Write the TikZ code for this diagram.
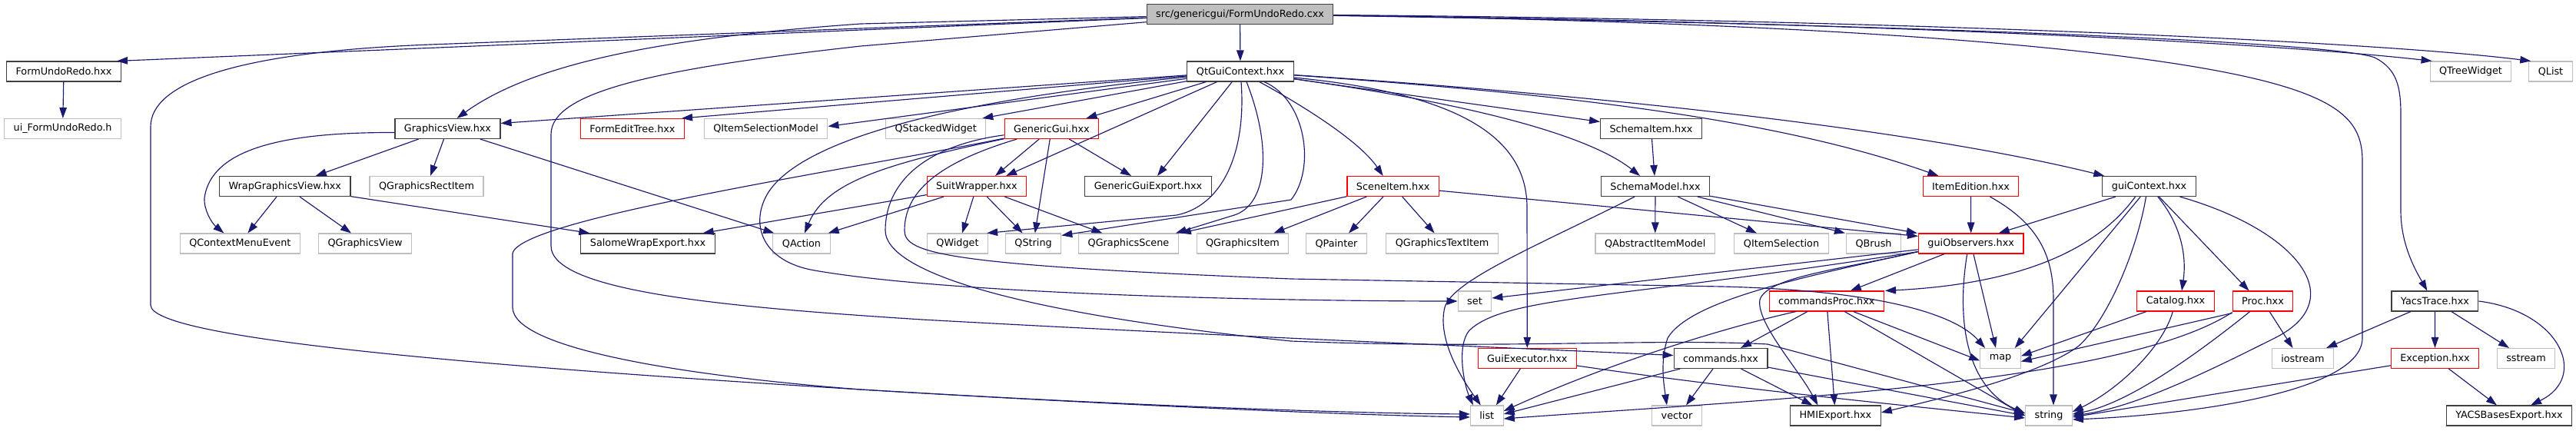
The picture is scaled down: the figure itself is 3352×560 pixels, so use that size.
\documentclass[tikz,border=0pt]{standalone}
\usepackage{fontspec}
\newfontfamily\dvs{DejaVu Sans}
\usetikzlibrary{arrows.meta}
\definecolor{edgec}{HTML}{191970}
\definecolor{lgray}{HTML}{BFBFBF}
\definecolor{dkgray}{HTML}{404040}
\definecolor{rootfill}{HTML}{BFBFBF}
\tikzset{
  nd/.style={draw=dkgray, line width=1.1pt, fill=white, inner xsep=12pt, inner ysep=0pt,
    minimum height=26pt, font=\dvs\fontsize{12.8pt}{15pt}\selectfont, text=black},
  gr/.style={nd, draw=lgray},
  rd/.style={nd, draw=red},
  rt/.style={nd, fill=rootfill},
  edg/.style={draw=edgec, line width=1.15pt, -{Triangle[length=14pt,width=9.5pt]}},
}
\begin{document}
\begin{tikzpicture}[x=1pt,y=-1pt]
\useasboundingbox (0,0) rectangle (3352,560);
% row 0
\node[rt] (root) at (1613.5,18.5) {src/genericgui/FormUndoRedo.cxx};
% row 1
\node[nd] (fur) at (83,93) {FormUndoRedo.hxx};
\node[nd] (qgc) at (1614,93) {QtGuiContext.hxx};
\node[gr] (qtw) at (3215,93) {QTreeWidget};
\node[gr] (qlist) at (3319,93) {QList};
% row 2
\node[gr] (uifur) at (81.6,167.5) {ui\_FormUndoRedo.h};
\node[nd] (gv) at (582.5,167.5) {GraphicsView.hxx};
\node[rd] (fet) at (823,167.5) {FormEditTree.hxx};
\node[gr] (qism) at (996.6,167.5) {QItemSelectionModel};
\node[gr] (qsw) at (1217.7,167.5) {QStackedWidget};
\node[rd] (gg) at (1368.4,167.5) {GenericGui.hxx};
\node[nd] (si) at (2148.5,167.5) {SchemaItem.hxx};
% row 3
\node[nd] (wgv) at (370.8,242.5) {WrapGraphicsView.hxx};
\node[gr] (qgri) at (555,242.5) {QGraphicsRectItem};
\node[rd] (sw) at (1271,242.5) {SuitWrapper.hxx};
\node[nd] (gge) at (1494,242.5) {GenericGuiExport.hxx};
\node[rd] (scit) at (1812.7,242.5) {SceneItem.hxx};
\node[nd] (sm) at (2154,242.5) {SchemaModel.hxx};
\node[rd] (ie) at (2564.5,242.5) {ItemEdition.hxx};
\node[nd] (gc) at (2796.5,242.5) {guiContext.hxx};
% row 4
\node[gr] (qcme) at (312.4,317) {QContextMenuEvent};
\node[gr] (qgview) at (475,317) {QGraphicsView};
\node[nd] (swe) at (843,317) {SalomeWrapExport.hxx};
\node[gr] (qaction) at (1043,317) {QAction};
\node[gr] (qwidget) at (1246,317) {QWidget};
\node[gr] (qstring) at (1344.6,317) {QString};
\node[gr] (qgs) at (1468.5,317) {QGraphicsScene};
\node[gr] (qgi) at (1617,317) {QGraphicsItem};
\node[gr] (qpainter) at (1739,317) {QPainter};
\node[gr] (qgti) at (1876.6,317) {QGraphicsTextItem};
\node[gr] (qaim) at (2153.7,317) {QAbstractItemModel};
\node[gr] (qis) at (2318,317) {QItemSelection};
\node[gr] (qbrush) at (2438,317) {QBrush};
\node[rd] (go) at (2564.7,317) {guiObservers.hxx};
% row 5
\node[gr] (set) at (1919,392) {set};
\node[rd] (cp) at (2376.8,392) {commandsProc.hxx};
\node[rd] (cat) at (2831,392) {Catalog.hxx};
\node[rd] (proc) at (2944.5,392) {Proc.hxx};
\node[nd] (yt) at (3168.4,392) {YacsTrace.hxx};
% row 6
\node[rd] (ge) at (1987.3,466.5) {GuiExecutor.hxx};
\node[nd] (cmd) at (2239,466.5) {commands.hxx};
\node[gr] (map) at (2603,466.5) {map};
\node[gr] (iostream) at (2996.4,466.5) {iostream};
\node[rd] (exc) at (3168.5,466.5) {Exception.hxx};
\node[gr] (sstream) at (3287,466.5) {sstream};
% row 7
\node[gr] (list) at (1934.8,541) {list};
\node[gr] (vector) at (2182,541) {vector};
\node[nd] (hmi) at (2388.4,541) {HMIExport.hxx};
\node[gr] (string) at (2666,541) {string};
\node[nd] (ybe) at (3265,541) {YACSBasesExport.hxx};

% ---- edges from root
\draw[edg] (root) -- ([xshift=-6pt]fur.north east);
\draw[edg] (root) -- (560,58) .. controls (300,68) and (196,110) .. (196,165) -- (196,397)
  .. controls (196,440) and (600,475) .. (1120,507) .. controls (1450,527) and (1750,538) .. ([yshift=2pt]list.west);
\draw[edg] (root) -- (1120,31) .. controls (850,50) and (690,85) .. ([xshift=12pt]gv.north);
\draw[edg] (root) -- (1120,60) .. controls (850,90) and (717,120) .. (717,175) -- (717,320)
  .. controls (717,380) and (950,400) .. (1200,416) .. controls (1600,438) and (1950,452) .. ([yshift=4pt]cmd.west);
\draw[edg] (root) -- (qgc);
\draw[edg] (root) .. controls (2400,28) and (2950,55) .. ([xshift=3pt]qtw.north west);
\draw[edg] (root) .. controls (2500,26) and (3100,55) .. ([xshift=3pt]qlist.north west);
\draw[edg] (root) .. controls (2500,32) and (3040,55) .. (3090,75) .. controls (3120,90) and (3124,115) .. (3124,150)
  -- (3124,275) .. controls (3124,320) and (3145,355) .. ([xshift=-10pt]yt.north);
\draw[edg] (root) .. controls (2300,28) and (2700,55) .. (2900,95) .. controls (3050,125) and (3074,160) .. (3074,210)
  -- (3074,440) .. controls (3074,510) and (2850,540) .. ([yshift=-5pt]string.east);
\draw[edg] (fur) -- (uifur);

% ---- edges from QtGuiContext
\draw[edg] (qgc) -- ([yshift=7pt]gv.east);
\draw[edg] (qgc) -- ([xshift=-4pt]fet.north east);
\draw[edg] (qgc) -- ([yshift=3pt]qism.east);
\draw[edg] (qgc) -- ([xshift=-5pt]qsw.north east);
\draw[edg] (qgc) -- ([xshift=45pt]gg.north);
\draw[edg] (qgc) -- ([xshift=38pt]sw.north);
\draw[edg] (qgc) -- ([xshift=12pt]gge.north);
\draw[edg] (qgc) .. controls (1622,200) and (1590,268) .. (1531,280) -- ([xshift=-2pt]qwidget.north east);
\draw[edg] ([xshift=8pt]qgc.south) .. controls (1655,190) and (1650,266) .. (1606,280) -- ([xshift=-4pt]qgs.north east);
\draw[edg] ([xshift=31pt]qgc.south) .. controls (1700,130) and (1712,220) .. (1680,260) -- ([yshift=-3pt]qstring.north east);
\draw[edg] (qgc) .. controls (1700,140) and (1770,185) .. ([xshift=-13pt]scit.north);
\draw[edg] ([yshift=-8pt]qgc.east) .. controls (1880,120) and (1987,170) .. (1987,270) -- (ge);
\draw[edg] (qgc) -- ([yshift=9pt]si.west);
\draw[edg] (qgc) .. controls (1880,130) and (2060,170) .. ([xshift=-20pt]sm.north);
\draw[edg] (qgc) .. controls (2000,120) and (2300,150) .. ([xshift=-42pt]ie.north);
\draw[edg] (qgc) .. controls (2100,125) and (2500,170) .. ([xshift=3pt]gc.north west);
\draw[edg] (qgc) .. controls (1350,120) and (1060,160) .. (1000,250) .. controls (975,290) and (990,340) .. (1060,352)
  .. controls (1250,385) and (1700,392) .. (set.west);

% ---- GenericGui
\draw[edg] (gg) -- ([xshift=24pt]sw.north);
\draw[edg] (gg) -- ([xshift=-22pt]gge.north);
\draw[edg] (gg) -- (qstring);
\draw[edg] (gg) .. controls (1160,212) and (1075,235) .. ([xshift=4pt]qaction.north);
\draw[edg] (gg) .. controls (1100,222) and (675,285) .. (667,330) -- (667,400)
  .. controls (667,455) and (900,490) .. (1120,507) .. controls (1450,527) and (1750,540) .. ([yshift=-2pt]list.west);
\draw[edg] (gg) .. controls (1220,212) and (1177,250) .. (1177,300) .. controls (1177,330) and (1230,345) .. (1680,363)
  -- (2240,373) .. controls (2450,378) and (2545,410) .. ([xshift=-20pt]map.north);
\draw[edg] (gg) .. controls (1200,190) and (1152,240) .. (1152,300) .. controls (1152,350) and (1300,405) .. (1680,444)
  .. controls (1950,455) and (2150,440) .. (2300,448) -- ([yshift=3pt]string.west);

% ---- SuitWrapper
\draw[edg] (sw) -- ([xshift=-16pt]swe.north east);
\draw[edg] (sw) -- ([xshift=-3pt]qaction.north east);
\draw[edg] (sw) -- ([xshift=6pt]qwidget.north);
\draw[edg] (sw) -- ([xshift=-14pt]qstring.north);
\draw[edg] (sw) -- ([xshift=-34pt]qgs.north);

% ---- GraphicsView
\draw[edg] (gv) -- ([xshift=40pt]wgv.north);
\draw[edg] (gv) -- ([xshift=5pt]qgri.north);
\draw[edg] ([yshift=-5pt]gv.west) .. controls (380,172) and (275,190) .. (266,258) .. controls (265,272) and (275,290) .. ([xshift=-21pt]qcme.north);
\draw[edg] (gv) -- ([xshift=2pt]qaction.north west);

% ---- WrapGraphicsView
\draw[edg] (wgv) -- ([xshift=10pt]qcme.north);
\draw[edg] (wgv) -- ([xshift=-18pt]qgview.north);
\draw[edg] (wgv) -- ([xshift=12pt]swe.north west);

% ---- SceneItem
\draw[edg] (scit) -- ([xshift=16pt]qpainter.north);
\draw[edg] (scit) -- ([xshift=-10pt]qgti.north);
\draw[edg] (scit) -- ([yshift=-4pt]go.north west);
\draw[edg] (scit) -- ([xshift=2pt]qgs.north east);
\draw[edg] (scit) -- ([xshift=-20pt]qgi.north east);

% ---- SchemaItem / SchemaModel
\draw[edg] (si) -- (sm);
\draw[edg] (sm) -- (qaim);
\draw[edg] (sm) .. controls (2000,320) and (1890,365) .. (1880,400) .. controls (1870,440) and (1900,490) .. ([xshift=-8pt]list.north);
\draw[edg] (sm) -- ([xshift=-32pt]qis.north);
\draw[edg] (sm) -- ([xshift=-1pt]qbrush.north west);
\draw[edg] (sm) -- ([xshift=-1pt]go.north west);

% ---- ItemEdition
\draw[edg] (ie) -- (go);
\draw[edg] ([xshift=25pt]ie.south) .. controls (2650,290) and (2672,330) .. (2672,390) -- ([xshift=6pt]string.north);

% ---- guiContext
\draw[edg] (gc) -- ([xshift=36pt]go.north);
\draw[edg] ([xshift=-18pt]gc.south) .. controls (2725,330) and (2620,370) .. ([xshift=1pt]cp.north east);
\draw[edg] (gc) -- ([xshift=-8pt]map.north east);
\draw[edg] ([xshift=-4pt]gc.south) .. controls (2780,330) and (2740,420) .. (2704,451) .. controls (2650,490) and (2520,520) .. ([yshift=4pt]hmi.east);
\draw[edg] (gc) .. controls (2836,290) and (2846,330) .. ([xshift=8pt]cat.north);
\draw[edg] (gc) -- ([xshift=-18pt]proc.north);
\draw[edg] ([xshift=40pt]gc.south) .. controls (2990,300) and (3060,390) .. (2960,440) .. controls (2880,480) and (2780,530) .. (string.east);

% ---- guiObservers
\draw[edg] (go) -- ([yshift=4pt]set.east);
\draw[edg] ([yshift=3pt]go.south west) .. controls (2100,390) and (1960,385) .. (1912,430) .. controls (1895,450) and (1905,500) .. ([xshift=-18pt]list.north);
\draw[edg] ([yshift=3pt]go.south west) .. controls (2350,360) and (2200,390) .. (2170,440) .. controls (2160,470) and (2165,500) .. ([xshift=-13pt]vector.north);
\draw[edg] ([yshift=3pt]go.south west) .. controls (2400,350) and (2300,360) .. (2290,390) .. controls (2285,420) and (2340,480) .. ([xshift=-23pt]hmi.north);
\draw[edg] (go) -- ([xshift=31pt]cp.north);
\draw[edg] (go) -- ([xshift=-6pt]map.north);
\draw[edg] ([xshift=-5pt]go.south) .. controls (2545,420) and (2560,505) .. ([yshift=3pt]string.west);

% ---- commandsProc
\draw[edg] ([xshift=-40pt]cp.south) .. controls (2250,425) and (2100,470) .. ([yshift=6pt]list.east);
\draw[edg] (cp) -- ([xshift=26pt]cmd.north);
\draw[edg] (cp) -- (hmi);
\draw[edg] (cp) -- (string.west);
\draw[edg] (cp) -- ([yshift=-3pt]map.west);

% ---- commands
\draw[edg] (cmd) -- ([yshift=2pt]list.east);
\draw[edg] (cmd) -- ([xshift=12pt]vector.north);
\draw[edg] (cmd) -- ([xshift=-30pt]hmi.north);
\draw[edg] (cmd) -- (string.west);

% ---- GuiExecutor
\draw[edg] (ge) -- ([xshift=12pt]list.north);
\draw[edg] (ge) .. controls (2250,505) and (2450,525) .. ([yshift=-3pt]string.west);

% ---- Catalog / Proc
\draw[edg] (cat) -- ([yshift=3pt]map.east);
\draw[edg] (cat) .. controls (2815,450) and (2760,505) .. ([yshift=5pt]string.east);
\draw[edg] ([yshift=-2pt]proc.south west) -- ([yshift=-4pt]map.east);
\draw[edg] ([yshift=-1pt]proc.south west) .. controls (2760,500) and (2300,520) .. ([yshift=-4pt]list.east);
\draw[edg] (proc) .. controls (2860,460) and (2770,525) .. ([yshift=2pt]string.east);
\draw[edg] (proc) -- ([xshift=-13pt]iostream.north);

% ---- YacsTrace / Exception
\draw[edg] (yt) -- ([xshift=-10pt]iostream.north east);
\draw[edg] (yt) -- (exc);
\draw[edg] (yt) -- ([xshift=-22pt]sstream.north);
\draw[edg] (yt.east) .. controls (3330,405) and (3370,490) .. ([xshift=28pt]ybe.north);
\draw[edg] (exc) -- ([xshift=-16pt]ybe.north);
\draw[edg] (exc) -- ([yshift=-2pt]string.east);
\end{tikzpicture}
\end{document}
